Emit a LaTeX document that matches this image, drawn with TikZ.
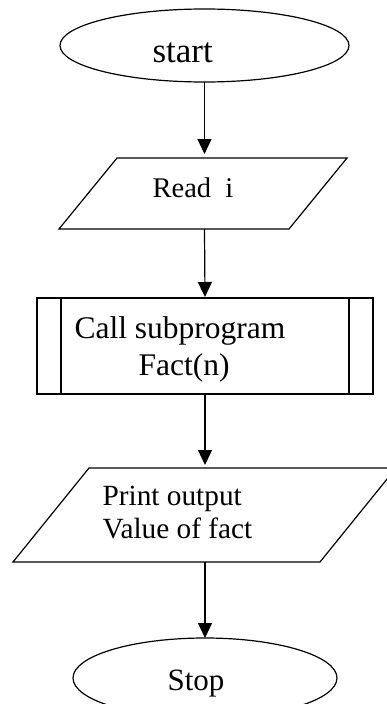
\documentclass[tikz,border=0pt]{standalone}
\usepackage{fontspec}
\setmainfont{Liberation Serif}
\usetikzlibrary{shapes.geometric,arrows.meta}
\begin{document}
\begin{tikzpicture}[x=1pt,y=-1pt,line width=1.2pt,
  shapebox/.style={inner sep=0pt,outer sep=0pt},
  txt/.style={inner sep=0pt,anchor=base west},
  flow/.style={-{Triangle[width=14pt,length=15pt]}}]
\useasboundingbox (0,0) rectangle (387,704);
\clip (0,0) rectangle (387,704);
% start
\node[shapebox,ellipse,draw,minimum width=289pt,minimum height=73pt] (start) at (204.5,45.5) {};
\node[txt,font=\fontsize{35}{40}\selectfont] (starttxt) at (152,62) {start};
% read
\node[shapebox,minimum width=230pt,minimum height=71pt] (read) at (204.5,193.5) {};
\draw (117,158) -- (347,158) -- (289,229) -- (59,229) -- cycle;
\node[txt,font=\fontsize{28.5}{32}\selectfont] (readtxt) at (152,197) {Read\ \ i};
% call
\node[shapebox,rectangle,draw,minimum width=336pt,minimum height=96pt] (call) at (205,346) {};
\draw (call.north west) ++(24,0) -- ++(0,96);
\draw (call.north east) ++(-24,0) -- ++(0,96);
\node[txt,font=\fontsize{31.5}{36}\selectfont] (calltxt1) at (74,338) {Call subprogram};
\node[txt,font=\fontsize{31.5}{36}\selectfont] (calltxt2) at (138,375) {Fact(n)};
% print
\node[shapebox,minimum width=307pt,minimum height=94pt] (print) at (205,515) {};
\draw (89,468) -- (396,468) -- (320,562) -- (13,562) -- cycle;
\node[txt,font=\fontsize{29.3}{33}\selectfont] (printtxt1) at (102,505) {Print output};
\node[txt,font=\fontsize{29.3}{33}\selectfont] (printtxt2) at (102,538) {Value of fact};
% stop
\node[shapebox,ellipse,draw,minimum width=264pt,minimum height=80pt] (stop) at (205,678) {};
\node[txt,font=\fontsize{31}{36}\selectfont] (stoptxt) at (167,690) {Stop};
% connectors
\draw[flow,shorten >=4pt] (start.south) -- (read.north);
\draw[flow,shorten >=1pt] (read.south) -- (call.north);
\draw[flow,shorten >=3pt] (call.south) -- (print.north);
\draw[flow] (print.south) -- (stop.north);
\end{tikzpicture}
\end{document}
